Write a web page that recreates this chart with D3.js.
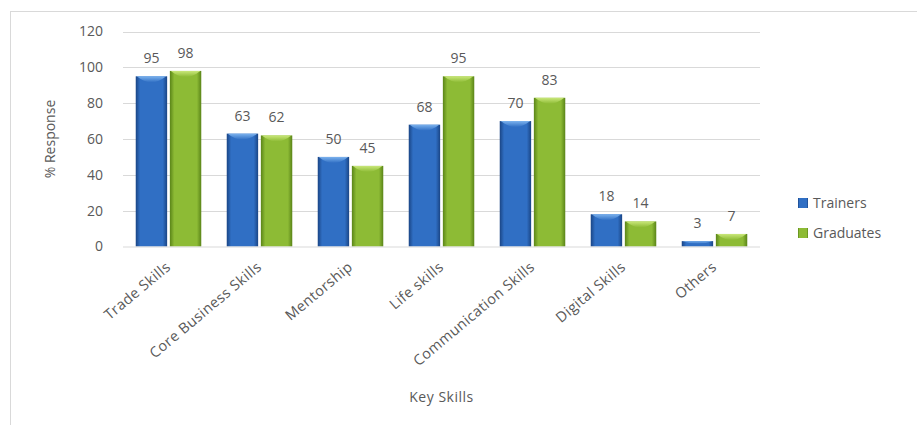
<!DOCTYPE html>
<html>
<head>
<meta charset="utf-8">
<script src="https://cdn.jsdelivr.net/npm/d3@7"></script>
<style>
  html, body { margin: 0; padding: 0; background: #fff; }
  svg { display: block; font-family: "Open Sans", "DejaVu Sans", sans-serif; }
</style>
</head>
<body>
<svg id="chart" width="917" height="425"></svg>
<script>
// Key skills survey: % response by trainers and graduates
const categories = ["Trade Skills", "Core Business Skills", "Mentorship", "Life skills",
                    "Communication Skills", "Digital Skills", "Others"];
const trainers  = [95, 63, 50, 68, 70, 18, 3];
const graduates = [98, 62, 45, 95, 83, 14, 7];
const seriesNames = ["Trainers", "Graduates"];
const yTicks = [0, 20, 40, 60, 80, 100, 120];

const svg = d3.select("#chart");
const textColor = "#595959";

// chart frame
svg.append("rect")
  .attr("x", 10.5).attr("y", 11.5).attr("width", 920).attr("height", 430)
  .attr("fill", "none").attr("stroke", "#d9d9d9").attr("stroke-width", 1);

const plot = { left: 123, right: 760, top: 31.5, bottom: 246.5 };

const y = d3.scaleLinear().domain([0, 120]).range([plot.bottom, plot.top]);
const x0 = d3.scaleBand().domain(categories).range([plot.left, plot.right])
  .paddingInner(0.28).paddingOuter(0.14);
const x1 = d3.scaleBand().domain(seriesNames).range([0, x0.bandwidth()]).paddingInner(0.08);

// gradients for the bevelled bars
const defs = svg.append("defs");
const palettes = {
  Trainers:  { dark: "#1a4585", mid: "#306fc4", cap: "#80b6f0" },
  Graduates: { dark: "#5a8418", mid: "#8dbb35", cap: "#cdea7e" }
};
seriesNames.forEach((s, i) => {
  const p = palettes[s];
  const g = defs.append("linearGradient").attr("id", "grad" + i)
    .attr("x1", "0").attr("x2", "1").attr("y1", "0").attr("y2", "0");
  g.append("stop").attr("offset", "0").attr("stop-color", p.dark);
  g.append("stop").attr("offset", "0.14").attr("stop-color", p.mid);
  g.append("stop").attr("offset", "0.86").attr("stop-color", p.mid);
  g.append("stop").attr("offset", "1").attr("stop-color", p.dark);
  const c = defs.append("linearGradient").attr("id", "cap" + i)
    .attr("x1", "0").attr("x2", "0").attr("y1", "0").attr("y2", "1");
  c.append("stop").attr("offset", "0").attr("stop-color", p.cap);
  c.append("stop").attr("offset", "1").attr("stop-color", p.mid);
});

// gridlines
svg.append("g").selectAll("line").data(yTicks.filter(d => d > 0)).join("line")
  .attr("x1", plot.left).attr("x2", plot.right)
  .attr("y1", d => Math.round(y(d)) + 0.5).attr("y2", d => Math.round(y(d)) + 0.5)
  .attr("stroke", "#d9d9d9").attr("stroke-width", 1);

// y axis labels
const yAxis = svg.append("g").attr("transform", `translate(${plot.left - 20},0)`)
  .call(d3.axisLeft(y).tickValues(yTicks).tickSize(0).tickPadding(0));
yAxis.select(".domain").remove();
yAxis.selectAll("text").attr("fill", textColor).style("font-size", "14px")
  .style("font-family", "'Open Sans', sans-serif");

svg.append("text")
  .attr("transform", `translate(55,${(plot.top + plot.bottom) / 2}) rotate(-90)`)
  .attr("text-anchor", "middle").attr("fill", textColor).style("font-size", "14px")
  .text("% Response");

// bars
const rows = categories.map((c, i) => ({ cat: c, vals: [trainers[i], graduates[i]] }));
const groups = svg.append("g").selectAll("g").data(rows).join("g")
  .attr("transform", d => `translate(${x0(d.cat)},0)`);

seriesNames.forEach((s, si) => {
  const w = x1.bandwidth();
  const bx = x1(s);
  groups.append("rect")
    .attr("x", bx).attr("width", w)
    .attr("y", d => y(d.vals[si]))
    .attr("height", d => plot.bottom - y(d.vals[si]))
    .attr("fill", `url(#grad${si})`);
  // rounded bevel highlight on the bar top
  groups.append("path")
    .attr("d", d => {
      const t = y(d.vals[si]);
      const h = Math.min(6, (plot.bottom - t) / 2);
      return `M${bx + 1},${t} L${bx + w - 1},${t} Q${bx + w / 2},${t + h * 2} ${bx + 1},${t} Z`;
    })
    .attr("fill", `url(#cap${si})`).attr("opacity", 0.95);
  groups.append("text")
    .attr("x", bx + w / 2)
    .attr("y", d => y(d.vals[si]) - 13)
    .attr("text-anchor", "middle").attr("fill", textColor).style("font-size", "14px")
    .text(d => d.vals[si]);
});

// baseline
svg.append("line")
  .attr("x1", plot.left).attr("x2", plot.right)
  .attr("y1", plot.bottom + 0.5).attr("y2", plot.bottom + 0.5)
  .attr("stroke", "#d9d9d9");

// category labels
const xAxis = svg.append("g").attr("transform", `translate(0,${plot.bottom})`)
  .call(d3.axisBottom(x0).tickSize(0).tickPadding(0));
xAxis.select(".domain").remove();
xAxis.selectAll("text")
  .attr("fill", textColor).style("font-size", "14.5px")
  .style("letter-spacing", "0.4px")
  .style("font-family", "'Open Sans', sans-serif")
  .attr("text-anchor", "end")
  .attr("dy", null)
  .attr("transform", "translate(3,22) rotate(-40)");

svg.append("text")
  .attr("x", (plot.left + plot.right) / 2).attr("y", 402)
  .attr("text-anchor", "middle").attr("fill", textColor).style("font-size", "14px")
  .style("letter-spacing", "0.5px")
  .text("Key Skills");

// legend
const legend = svg.append("g").selectAll("g").data(seriesNames).join("g")
  .attr("transform", (d, i) => `translate(798,${203 + i * 30})`);
legend.append("rect").attr("x", 0).attr("y", -5).attr("width", 10).attr("height", 10)
  .attr("fill", (d, i) => `url(#grad${i})`);
legend.append("text").attr("x", 15).attr("y", 5)
  .attr("fill", textColor).style("font-size", "14px")
  .text(d => d);
</script>
</body>
</html>
